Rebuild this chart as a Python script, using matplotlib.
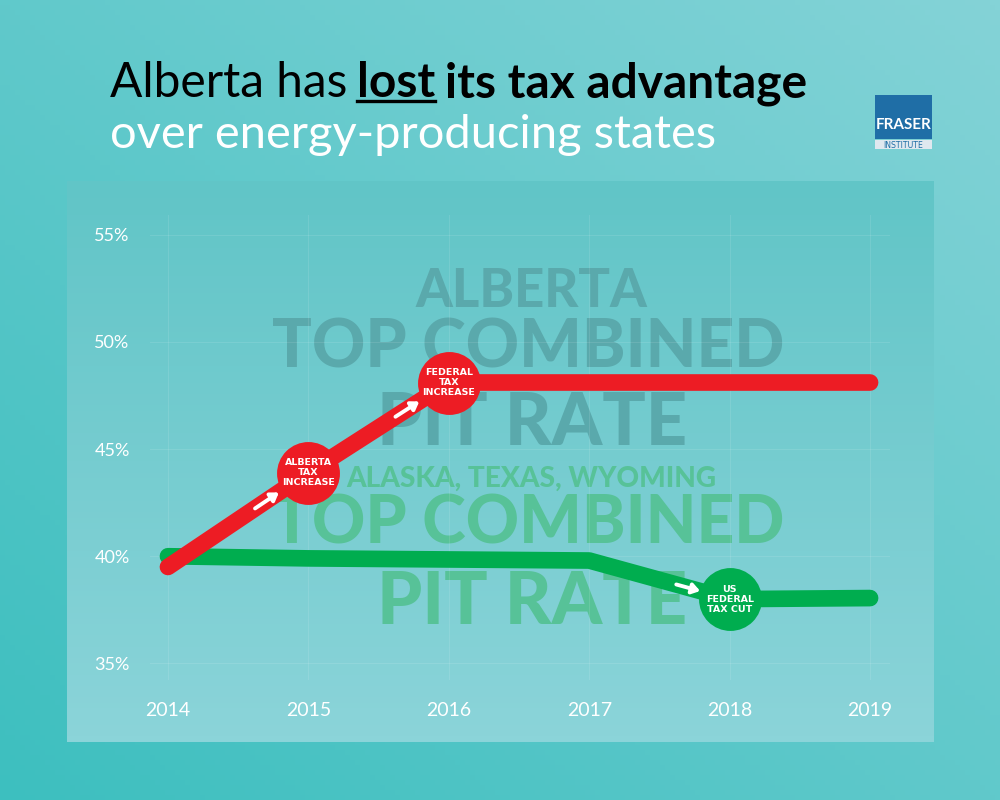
import matplotlib
matplotlib.use('Agg')
import matplotlib.pyplot as plt
import numpy as np
from matplotlib.patches import Rectangle
from matplotlib.lines import Line2D
from matplotlib.colors import LinearSegmentedColormap

# data
years = [2014, 2015, 2016, 2017, 2018, 2019]
alberta_rate = [39.5, 43.9, 48.1, 48.1, 48.1, 48.1]
states_rate = [40.0, 39.9, 39.85, 39.8, 38.0, 38.05]
y_ticks = [35, 40, 45, 50, 55]
y_tick_labels = ['35%', '40%', '45%', '50%', '55%']
# (series, index of year, label)
events = [('alberta', 1, 'ALBERTA\nTAX\nINCREASE'),
          ('alberta', 2, 'FEDERAL\nTAX\nINCREASE'),
          ('states', 4, 'US\nFEDERAL\nTAX CUT')]

RED = '#ed1c24'
GREEN = '#00ad4f'
W, H = 1000, 800


def fx(x):
    return x / W


def fy(y):
    return 1 - y / H


fig = plt.figure(figsize=(10, 8), dpi=100)

# background gradient (dark bottom-left -> light top-right)
bg = fig.add_axes([0, 0, 1, 1], zorder=-10)
gx, gy = np.meshgrid(np.linspace(0, 1, 200), np.linspace(0, 1, 160))
bg_cmap = LinearSegmentedColormap.from_list('bg', ['#3dbfbf', '#84d3d7'])
bg.imshow((gx + (1 - gy)) / 2, cmap=bg_cmap, aspect='auto', extent=[0, 1, 0, 1])
bg.axis('off')

# lighter panel
panel = fig.add_axes([fx(67), fy(742), fx(934) - fx(67), fy(181) - fy(742)], zorder=-9)
py = np.linspace(0, 1, 100).reshape(-1, 1)
panel_cmap = LinearSegmentedColormap.from_list('panel', ['#61c5c7', '#8bd4d9'])
panel.imshow(py, cmap=panel_cmap, aspect='auto', extent=[0, 1, 0, 1])
panel.axis('off')

# watermark texts
fig.canvas.draw()
r = fig.canvas.get_renderer()


def fit_text(x, y, s, width, color, family, weight, size=40, **kw):
    t = fig.text(fx(x), fy(y), s, color=color, family=family, weight=weight,
                 fontsize=size, ha='center', va='baseline', **kw)
    w = t.get_window_extent(r).width
    t.set_fontsize(size * width / w)
    return t


WM_FONT = ['Lato', 'DejaVu Sans']
dark_wm = '#5aa9ac'
green_wm = '#57c298'
fit_text(531, 307, 'ALBERTA', 232, dark_wm, WM_FONT, 'black', zorder=-5)
fit_text(528, 367, 'TOP COMBINED', 512, dark_wm, WM_FONT, 'black', zorder=-5)
fit_text(532, 445, 'PIT RATE', 310, dark_wm, WM_FONT, 'black', zorder=-5)
fit_text(531, 487, 'ALASKA, TEXAS, WYOMING', 370, green_wm, WM_FONT, 'black', zorder=-5)
fit_text(528, 543, 'TOP COMBINED', 512, green_wm, WM_FONT, 'black', zorder=-5)
fit_text(532, 624, 'PIT RATE', 310, green_wm, WM_FONT, 'black', zorder=-5)

# main axes
ax = fig.add_axes([0.15, 0.15, 0.74, 0.58125])
ax.patch.set_alpha(0)
ax.set_xlim(2013.872, 2019.142)
ax.set_ylim(34.23, 55.91)
for s in ax.spines.values():
    s.set_visible(False)
ax.set_xticks(years)
ax.set_xticklabels([str(y) for y in years])
ax.set_yticks(y_ticks)
ax.set_yticklabels(y_tick_labels)
ax.tick_params(length=0, colors='white', labelsize=13)
ax.tick_params(axis='x', pad=16, labelsize=14)
ax.tick_params(axis='y', pad=40)
for lab in ax.get_yticklabels():
    lab.set_horizontalalignment('left')
    lab.set_family(['Lato', 'DejaVu Sans'])
for lab in ax.get_xticklabels():
    lab.set_family(['Lato', 'DejaVu Sans'])
ax.grid(True, color='white', alpha=0.1, lw=0.8)

ax.plot(years, states_rate, color=GREEN, lw=12, solid_capstyle='round',
        solid_joinstyle='round', zorder=3)
ax.plot(years, alberta_rate, color=RED, lw=12, solid_capstyle='round',
        solid_joinstyle='round', zorder=4)

series = {'alberta': (alberta_rate, RED), 'states': (states_rate, GREEN)}
for name, i, label in events:
    vals, col = series[name]
    ax.scatter([years[i]], [vals[i]], s=2050, color=col, zorder=6, linewidths=0)
    ax.text(years[i], vals[i], label, color='white', fontsize=6.8, weight='bold',
            ha='center', va='center', linespacing=1.15, zorder=7,
            family=['DejaVu Sans'])
    # white arrow on the incoming segment
    x0, x1 = years[i - 1], years[i]
    y0, y1 = vals[i - 1], vals[i]
    t0, t1 = 0.62, 0.79
    ax.annotate('', xy=(x0 + (x1 - x0) * t1, y0 + (y1 - y0) * t1),
                xytext=(x0 + (x1 - x0) * t0, y0 + (y1 - y0) * t0),
                arrowprops=dict(arrowstyle='-|>,head_length=0.45,head_width=0.3',
                                color='white', lw=2.8, shrinkA=0, shrinkB=0),
                zorder=5)

# title: three pieces on line 1, fitted to the reference width
TFONT = ['Lato', 'DejaVu Sans']


def title_line1(size):
    pieces = [('Alberta has', 'normal'), ('lost', 'bold'), ('its tax advantage', 'bold')]
    x = 110
    arts = []
    for txt, wt in pieces:
        t = fig.text(fx(x), fy(97), txt, fontsize=size, family=TFONT, weight=wt,
                     color='black', va='baseline')
        e = t.get_window_extent(r)
        arts.append(t)
        x = e.x1 + size * 0.28
    return arts


arts = title_line1(37)
right = arts[-1].get_window_extent(r).x1
for a in arts:
    a.remove()
size1 = 37 * (808 - 110) / (right - 110)
arts = title_line1(size1)
e2 = arts[1].get_window_extent(r)
fig.add_artist(Line2D([e2.x0 / W, e2.x1 / W], [fy(101), fy(101)], color='black',
                      lw=2.4, transform=fig.transFigure))
fit_line2 = fig.text(fx(110), fy(148), 'over energy-producing states', fontsize=37,
                     family=TFONT, color='white', va='baseline')
w2 = fit_line2.get_window_extent(r).width
fit_line2.set_fontsize(37 * 605 / w2)

# logo
fig.add_artist(Rectangle((fx(875), fy(139)), fx(932) - fx(875), fy(95) - fy(139),
                         facecolor='#1f6ea6', transform=fig.transFigure, lw=0))
fig.add_artist(Rectangle((fx(875), fy(149)), fx(932) - fx(875), fy(140) - fy(149),
                         facecolor='#dfe8ef', transform=fig.transFigure, lw=0))
fig.text(fx(903.5), fy(129), 'FRASER', color='white', fontsize=11, weight='bold',
         family=TFONT, ha='center', va='baseline')
fig.text(fx(903.5), fy(147.5), 'INSTITUTE', color='#1f6ea6', fontsize=5.6,
         family=['DejaVu Sans'], ha='center', va='baseline')

fig.savefig('out.png', dpi=100)
